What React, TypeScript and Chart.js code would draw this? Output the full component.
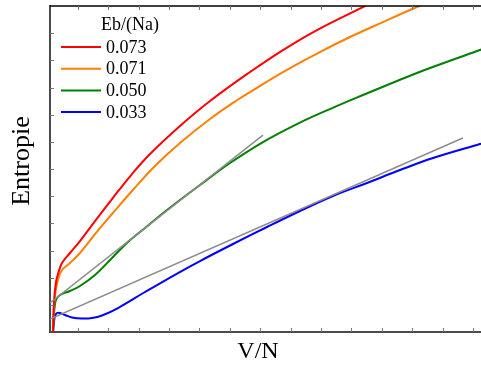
import React, { useEffect, useRef } from "react";
import { Chart, registerables } from "chart.js";

Chart.register(...registerables);

// Legend / series
const legendTitle = "Eb/(Na)";
const seriesLabels = ["0.073", "0.071", "0.050", "0.033"];
const seriesColors = ["#ff0000", "#ff8000", "#008000", "#0000ff"];

// Curves (x and y in tick-interval units)
const redX = [0.179, 0.212, 0.278, 0.343, 0.475, 0.738, 1.067, 1.561, 2.121, 2.779, 3.372, 4.359, 5.347, 6.663, 7.749, 8.869, 10.449, 11.601];
const redY = [0, 1.104, 1.84, 2.135, 2.54, 2.908, 3.349, 4.085, 4.895, 5.815, 6.551, 7.582, 8.502, 9.569, 10.379, 11.115, 11.998, 12.624];

const orangeX = [0.179, 0.212, 0.278, 0.343, 0.475, 0.738, 1.067, 1.561, 2.121, 2.779, 3.536, 4.359, 5.347, 6.268, 6.663, 7.749, 8.869, 9.955, 11.041, 12.16, 13.246];
const orangeY = [0, 0.994, 1.583, 1.914, 2.282, 2.54, 2.908, 3.607, 4.343, 5.19, 6.11, 6.956, 7.84, 8.557, 8.833, 9.569, 10.25, 10.858, 11.409, 11.962, 12.44];

const greenX = [0.179, 0.212, 0.245, 0.31, 0.475, 0.738, 1.067, 1.561, 2.121, 2.647, 3.207, 3.767, 4.359, 5.017, 6.005, 7.091, 8.21, 9.297, 10.383, 11.502, 12.588, 14.234, 14.5];
const greenY = [0, 0.626, 1.031, 1.251, 1.399, 1.509, 1.693, 2.098, 2.724, 3.312, 3.828, 4.343, 4.858, 5.41, 6.22, 6.993, 7.655, 8.207, 8.723, 9.238, 9.717, 10.379, 10.48];

const blueX = [0.179, 0.212, 0.245, 0.31, 0.409, 0.574, 0.804, 1.133, 1.463, 1.792, 2.318, 3.207, 4.293, 5.017, 6.104, 7.223, 8.309, 9.395, 10.515, 11.601, 12.687, 14.234, 14.5];
const blueY = [0, 0.368, 0.589, 0.699, 0.699, 0.626, 0.534, 0.497, 0.515, 0.607, 0.883, 1.472, 2.171, 2.613, 3.239, 3.865, 4.454, 5.006, 5.484, 5.962, 6.404, 6.919, 7.0];

// Grey tangent lines
const tangentUpperX = [0.08, 7.09];
const tangentUpperY = [1.07, 7.25];
const tangentLowerX = [0.08, 13.67];
const tangentLowerY = [0.48, 7.14];

// Axis ticks (unlabelled, inward)
const xTickValues = [1, 2, 3, 4, 5, 6, 7, 8, 9, 10, 11, 12, 13, 14];
const yTickValues = [1, 2, 3, 4, 5, 6, 7, 8, 9, 10, 11];
const xMin = 0.08;
const xMax = 14.366;
const yMin = 0;
const yMax = 12;

const xTitle = "V/N";
const yTitle = "Entropie";

const toPoints = (xs: number[], ys: number[]) => xs.map((x, i) => ({ x, y: ys[i] }));

const SERIF = "'Liberation Serif', 'Times New Roman', serif";

const decorPlugin = {
  id: "decor",
  afterDraw(chart: any) {
    const { ctx, chartArea, scales } = chart;
    const xs = scales.x;
    const ys = scales.y;
    ctx.save();
    // top frame line
    ctx.strokeStyle = "#000000";
    ctx.lineWidth = 1.5;
    ctx.beginPath();
    ctx.moveTo(chartArea.left, chartArea.top);
    ctx.lineTo(chartArea.right, chartArea.top);
    ctx.stroke();
    // inward ticks
    ctx.strokeStyle = "#777777";
    ctx.lineWidth = 1;
    ctx.beginPath();
    xTickValues.forEach((v) => {
      const px = Math.round(xs.getPixelForValue(v)) + 0.5;
      ctx.moveTo(px, chartArea.bottom);
      ctx.lineTo(px, chartArea.bottom - 4);
      ctx.moveTo(px, chartArea.top);
      ctx.lineTo(px, chartArea.top + 4);
    });
    yTickValues.forEach((v) => {
      const py = Math.round(ys.getPixelForValue(v)) + 0.5;
      ctx.moveTo(chartArea.left, py);
      ctx.lineTo(chartArea.left + 4, py);
    });
    ctx.stroke();

    // legend
    ctx.fillStyle = "#000000";
    ctx.font = `18px ${SERIF}`;
    ctx.textBaseline = "middle";
    ctx.textAlign = "center";
    ctx.fillText(legendTitle, 130, 25);
    ctx.textAlign = "left";
    seriesLabels.forEach((lab, i) => {
      const y = 47 + i * 21.7;
      ctx.strokeStyle = seriesColors[i];
      ctx.lineWidth = 2;
      ctx.beginPath();
      ctx.moveTo(61, y);
      ctx.lineTo(101, y);
      ctx.stroke();
      ctx.fillText(lab, 106, y + 1);
    });

    // axis titles
    ctx.textAlign = "center";
    ctx.textBaseline = "middle";
    ctx.font = `24px ${SERIF}`;
    ctx.fillText(xTitle, 258, 352);
    ctx.font = `26px ${SERIF}`;
    ctx.translate(22, 161);
    ctx.rotate(-Math.PI / 2);
    ctx.fillText(yTitle, 0, 0);
    ctx.restore();
  },
};

export default function App() {
  const ref = useRef<HTMLCanvasElement | null>(null);
  useEffect(() => {
    if (!ref.current) return;
    const curve = (label: string, xs: number[], ys: number[], color: string) => ({
      label,
      data: toPoints(xs, ys),
      borderColor: color,
      backgroundColor: color,
      borderWidth: 2,
      pointRadius: 0,
      tension: 0.4,
      fill: false,
    });
    const tangent = (xs: number[], ys: number[]) => ({
      label: "tangent",
      data: toPoints(xs, ys),
      borderColor: "#8c8c8c",
      backgroundColor: "#8c8c8c",
      borderWidth: 1.5,
      pointRadius: 0,
      tension: 0,
      fill: false,
    });
    const chart = new Chart(ref.current, {
      type: "line",
      data: {
        datasets: [
          tangent(tangentUpperX, tangentUpperY),
          tangent(tangentLowerX, tangentLowerY),
          curve(seriesLabels[0], redX, redY, seriesColors[0]),
          curve(seriesLabels[1], orangeX, orangeY, seriesColors[1]),
          curve(seriesLabels[2], greenX, greenY, seriesColors[2]),
          curve(seriesLabels[3], blueX, blueY, seriesColors[3]),
        ],
      },
      options: {
        responsive: false,
        animation: false,
        devicePixelRatio: 1,
        layout: { padding: { left: 50, top: 6, right: 16, bottom: 35 } },
        plugins: { legend: { display: false }, tooltip: { enabled: false } },
        scales: {
          x: {
            type: "linear",
            min: xMin,
            max: xMax,
            grid: { display: false, drawTicks: false },
            ticks: { display: false },
            border: { display: true, color: "#4a4a4a", width: 2 },
          },
          y: {
            type: "linear",
            min: yMin,
            max: yMax,
            grid: { display: false, drawTicks: false },
            ticks: { display: false },
            border: { display: true, color: "#4a4a4a", width: 2 },
          },
        },
      },
      plugins: [decorPlugin],
    });
    return () => chart.destroy();
  }, []);
  return (
    <div style={{ position: "fixed", left: 0, top: 0, width: 481, height: 367, overflow: "hidden", background: "#fff" }}>
      <canvas ref={ref} width={500} height={367} style={{ width: 500, height: 367, display: "block" }} />
    </div>
  );
}
